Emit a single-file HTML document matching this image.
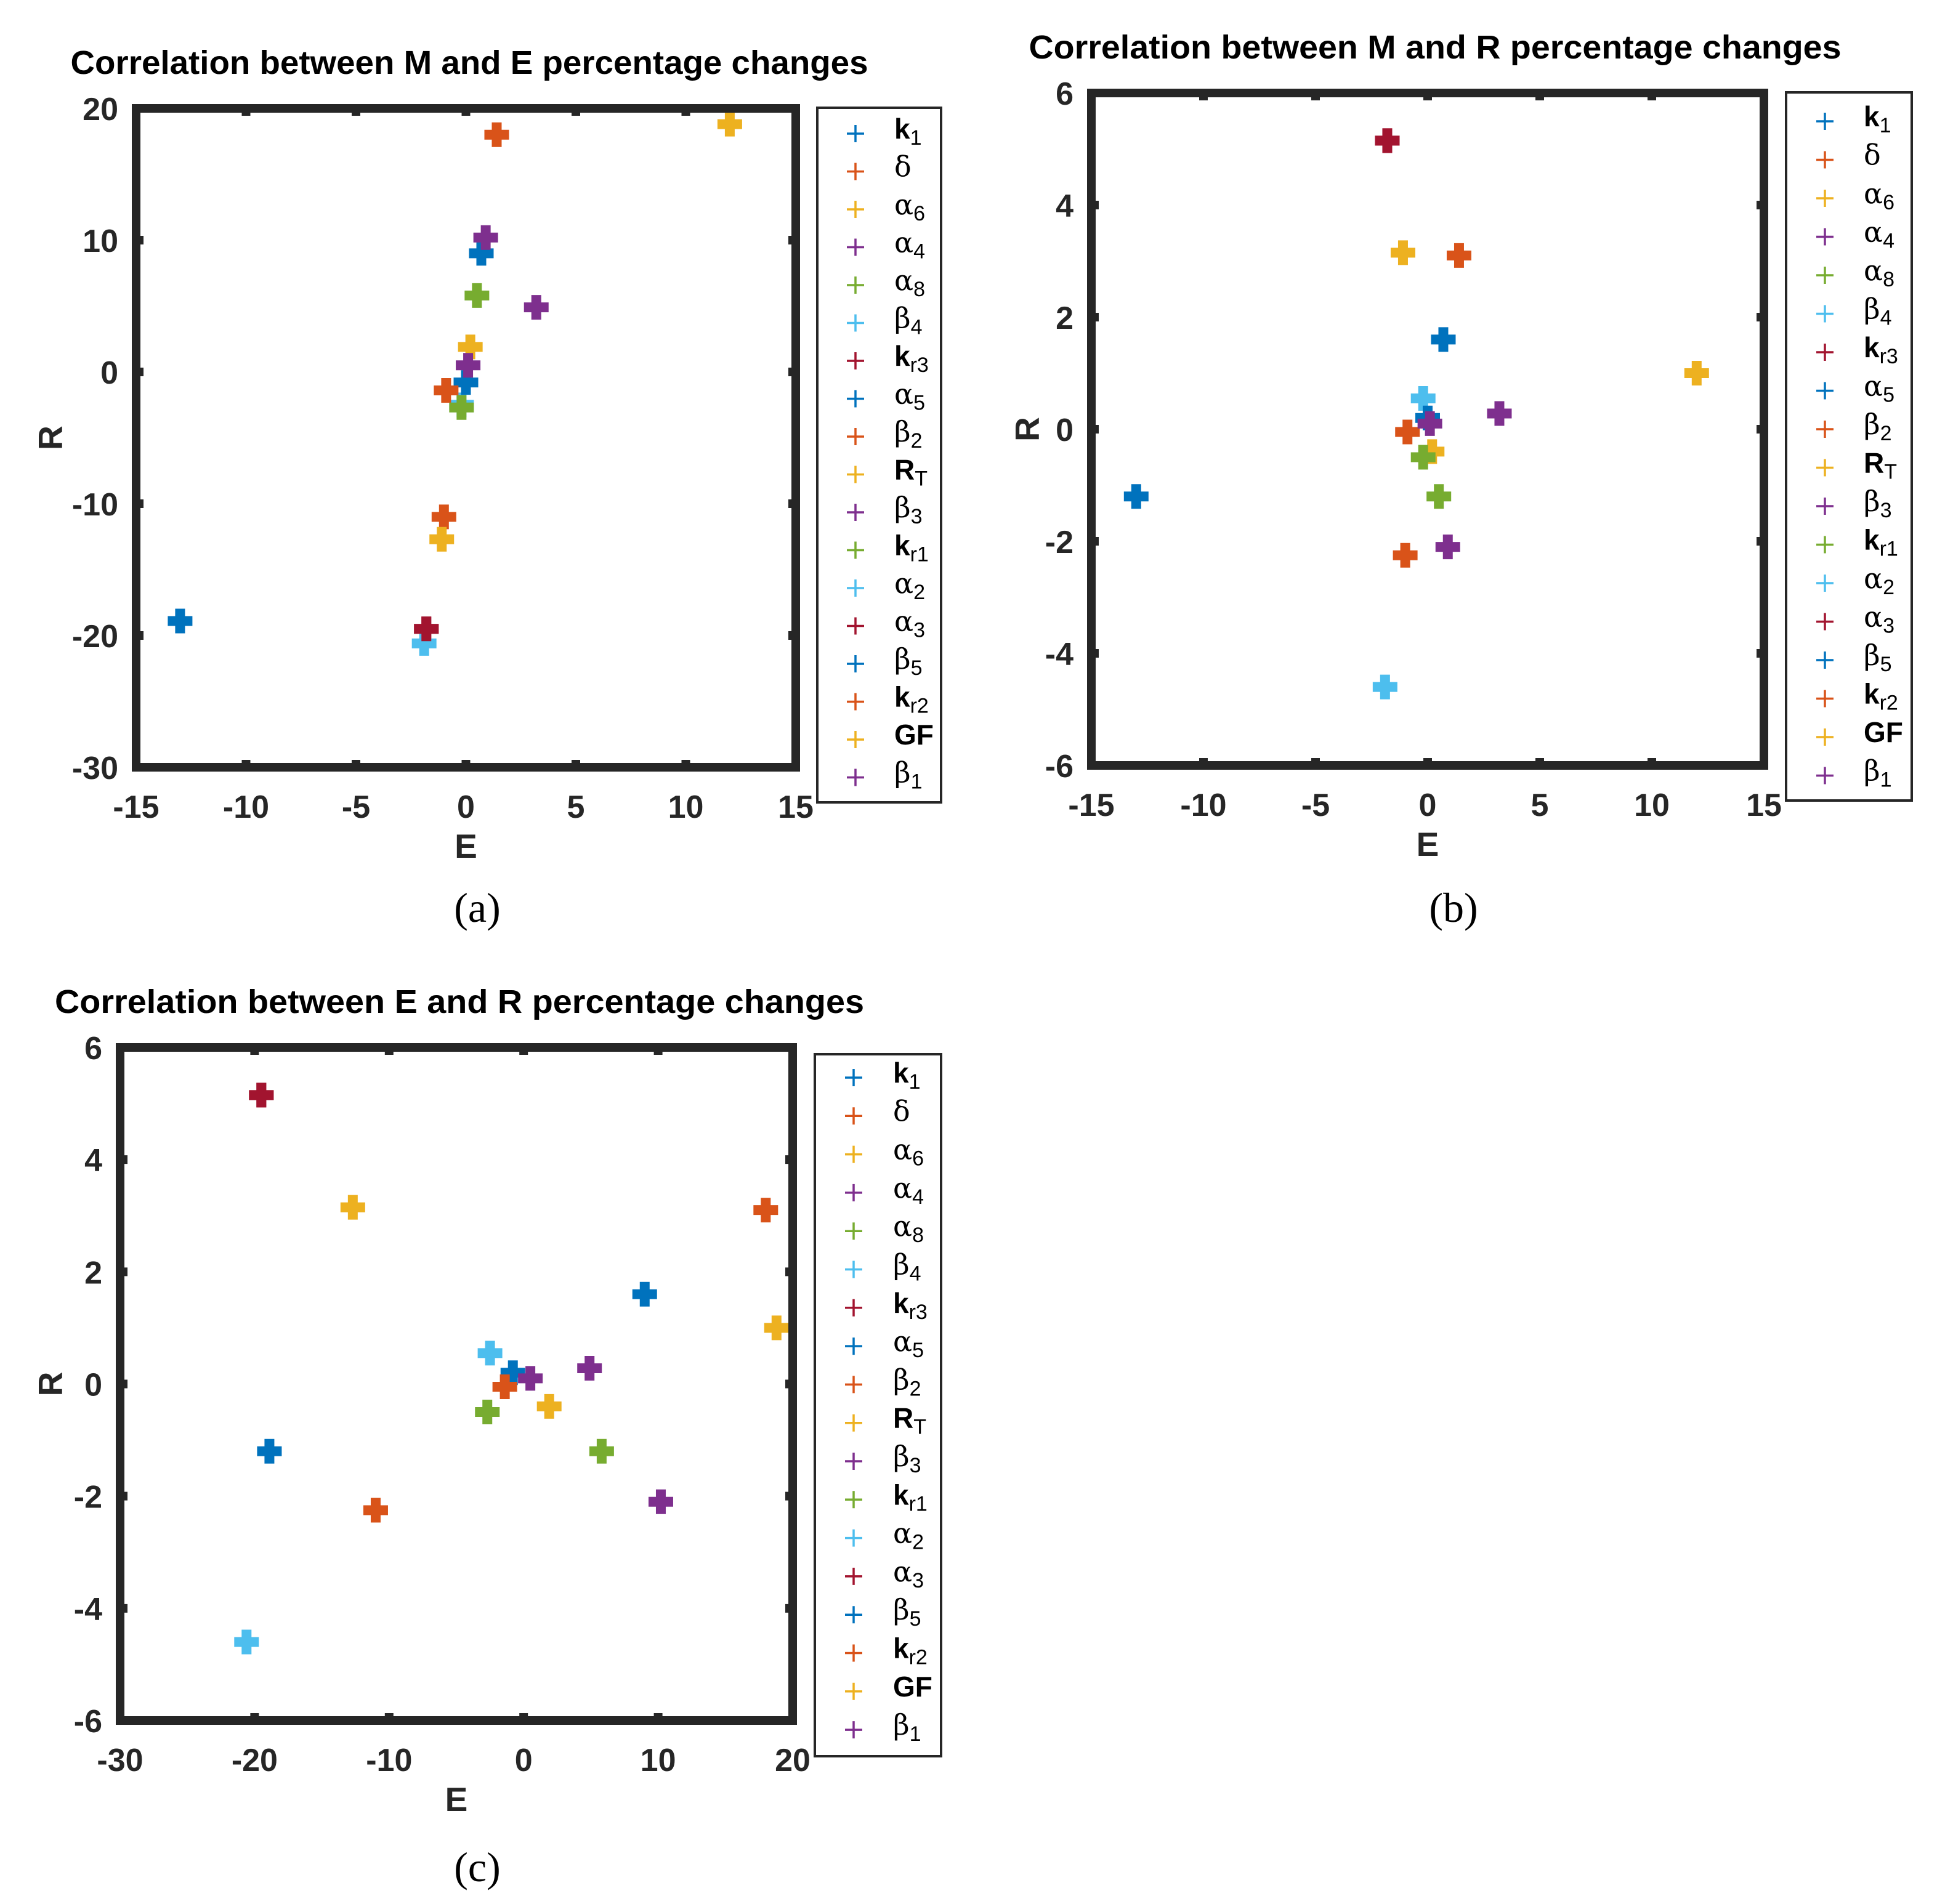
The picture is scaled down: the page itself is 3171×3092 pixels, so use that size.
<!DOCTYPE html>
<html><head><meta charset="utf-8"><style>
html,body{margin:0;padding:0;background:#fff;}
svg{display:block;}
</style></head><body>
<svg id="fig" xmlns="http://www.w3.org/2000/svg" width="3171" height="3092" viewBox="0 0 3171 3092">
<rect x="0" y="0" width="3171" height="3092" fill="#fff"/>
</svg>
<script>
// Parameter names (legend order)
const paramNames = ["k1","δ","α6","α4","α8","β4","kr3","α5","β2","RT","β3","kr1","α2","α3","β5","kr2","GF","β1"];
// Percentage change values per parameter
const valuesA = [0.7, 1.4, 12, 0.9, 0.5, -0.2, -1.8, 0.0, -0.9, 0.2, 3.2, -0.2, -1.9, -1.8, -13, -1.0, -1.1, 0.1];   // E axis in (a),(b)
const valuesB = [9.0, 18.0, 18.8, 10.2, 5.8, -2.5, -19.5, -0.8, -1.4, 1.9, 4.9, -2.7, -20.6, -19.5, -18.9, -11.0, -12.7, 0.5]; // R in (a), E in (c)
const valuesC = [1.6, 3.1, 1.0, -2.1, -1.2, 0.55, 5.15, 0.2, -0.05, -0.4, 0.28, -0.5, -4.6, 5.15, -1.2, -2.25, 3.15, 0.1];   // R in (b),(c)
const ticksA = [-15,-10,-5,0,5,10,15];
const ticksB = [-30,-20,-10,0,10,20];
const ticksC = [-6,-4,-2,0,2,4,6];

const colors = ["#0072BD","#D95319","#EDB120","#7E2F8E","#77AC30","#4DBEEE","#A2142F"];
const NS = "http://www.w3.org/2000/svg";
const svg = document.getElementById('fig');
function el(tag, attrs, parent){const e=document.createElementNS(NS,tag);for(const k in attrs)e.setAttribute(k,attrs[k]);(parent||svg).appendChild(e);return e;}

const panels = [
 {id:"a", title:"Correlation between M and E percentage changes", tc:762, tw:1295, xs:valuesA, ys:valuesB, xt:ticksA, yt:ticksB,
  x0:221,x1:1292,y0:176,y1:1246, lg:{l:1327,r:1528,t:175,b:1303,first:217,step:61.5,mx:1389,tx:1452}, rx:81, cap:"(a)", capx:775, capy:1497},
 {id:"b", title:"Correlation between M and R percentage changes", tc:2330, tw:1319, xs:valuesA, ys:valuesC, xt:ticksA, yt:ticksC,
  x0:1772,x1:2864,y0:151,y1:1243, lg:{l:2900,r:3104,t:150,b:1300,first:197,step:62.5,mx:2963,tx:3026}, rx:1667, cap:"(b)", capx:2360, capy:1497},
 {id:"c", title:"Correlation between E and R percentage changes", tc:746, tw:1314, xs:valuesB, ys:valuesC, xt:ticksB, yt:ticksC,
  x0:195,x1:1287,y0:1701,y1:2794, lg:{l:1323,r:1528,t:1712,b:2852,first:1750,step:62.3,mx:1386,tx:1450}, rx:81, cap:"(c)", capx:775, capy:3055}
];

function legendLabel(g, name, x, y){
  const t = el('text',{x:x,y:y+8,'font-size':46,fill:'#000'},g);
  
  
  const latin = /^[A-Za-z]/.test(name);
  const mainTxt = name==="GF" ? "GF" : name[0];
  const subTxt = name==="GF" ? "" : name.slice(1);
  const main = document.createElementNS(NS,'tspan');
  main.setAttribute('font-family', latin ? '"Liberation Sans", sans-serif' : '"DejaVu Serif","Liberation Serif", serif');
  if(latin) main.setAttribute('font-weight','bold');
  main.textContent = mainTxt;
  t.appendChild(main);
  if(subTxt){
    const sub = document.createElementNS(NS,'tspan');
    sub.setAttribute('font-family','"Liberation Sans", sans-serif');
    sub.setAttribute('font-size','34');
    sub.setAttribute('dy','10');
    sub.textContent = subTxt;
    t.appendChild(sub);
  }
}

panels.forEach(p=>{
  const g = el('g',{});
  
  
  const xmin=p.xt[0], xmax=p.xt[p.xt.length-1], ymin=p.yt[0], ymax=p.yt[p.yt.length-1];
  const sx = v => p.x0 + (v-xmin)/(xmax-xmin)*(p.x1-p.x0);
  const sy = v => p.y1 - (v-ymin)/(ymax-ymin)*(p.y1-p.y0);
  const tt = el('text',{x:p.tc-p.tw/2, y:p.y0-56,textLength:p.tw,lengthAdjust:'spacingAndGlyphs','font-family':'"Liberation Sans", sans-serif','font-weight':'bold','font-size':54,fill:'#000'},g);
  
  
  tt.textContent = p.title;
  p.xs.forEach((xv,i)=>{
    const cx=sx(xv), cy=sy(p.ys[i]);
    const m = el('path',{d:`M${cx-20},${cy}H${cx+20}M${cx},${cy-20}V${cy+20}`,stroke:colors[i%7],'stroke-width':16,fill:'none'},g);
    
    
  });
  const box = el('rect',{x:p.x0,y:p.y0,width:p.x1-p.x0,height:p.y1-p.y0,fill:'none',stroke:'#262626','stroke-width':14},g);
  
  
  p.xt.forEach(v=>{
    const x=sx(v);
    const tk=el('path',{d:`M${x},${p.y1}V${p.y1-12}M${x},${p.y0}V${p.y0+12}`,stroke:'#262626','stroke-width':14},g);
    
    
    const lb=el('text',{x:x,y:p.y1+82,'text-anchor':'middle','font-family':'"Liberation Sans", sans-serif','font-weight':'bold','font-size':52,fill:'#262626'},g);
    
    
    lb.textContent=String(v);
  });
  p.yt.forEach(v=>{
    const y=sy(v);
    const tk=el('path',{d:`M${p.x0},${y}H${p.x0+12}M${p.x1},${y}H${p.x1-12}`,stroke:'#262626','stroke-width':14},g);
    
    
    const lb=el('text',{x:p.x0-29,y:y+19,'text-anchor':'end','font-family':'"Liberation Sans", sans-serif','font-weight':'bold','font-size':52,fill:'#262626'},g);
    
    
    lb.textContent=String(v);
  });
  const xl=el('text',{x:(p.x0+p.x1)/2,y:p.y1+147,'text-anchor':'middle','font-family':'"Liberation Sans", sans-serif','font-weight':'bold','font-size':55,fill:'#262626'},g);
  
  
  xl.textContent='E';
  const yc=(p.y0+p.y1)/2;
  const yl=el('text',{x:p.rx+20,y:yc,'text-anchor':'middle','font-family':'"Liberation Sans", sans-serif','font-weight':'bold','font-size':55,fill:'#262626',transform:`rotate(-90 ${p.rx+20} ${yc})`},g);
  
  
  yl.textContent='R';
  const L=p.lg;
  const lgG=el('g',{},g);
  
  
  const lr=el('rect',{x:L.l,y:L.t,width:L.r-L.l,height:L.b-L.t,fill:'#fff',stroke:'#262626','stroke-width':4},lgG);
  
  
  paramNames.forEach((n,i)=>{
    const y=L.first+i*L.step;
    const mk=el('path',{d:`M${L.mx-14},${y}H${L.mx+14}M${L.mx},${y-14}V${y+14}`,stroke:colors[i%7],'stroke-width':3.5,fill:'none'},lgG);
    
    
    legendLabel(lgG,n,L.tx,y);
  });
  const cp=el('text',{x:p.capx,y:p.capy,'text-anchor':'middle','font-family':'"Liberation Serif", serif','font-size':68,fill:'#000'},g);
  
  
  cp.textContent=p.cap;
});
</script>
</body></html>
